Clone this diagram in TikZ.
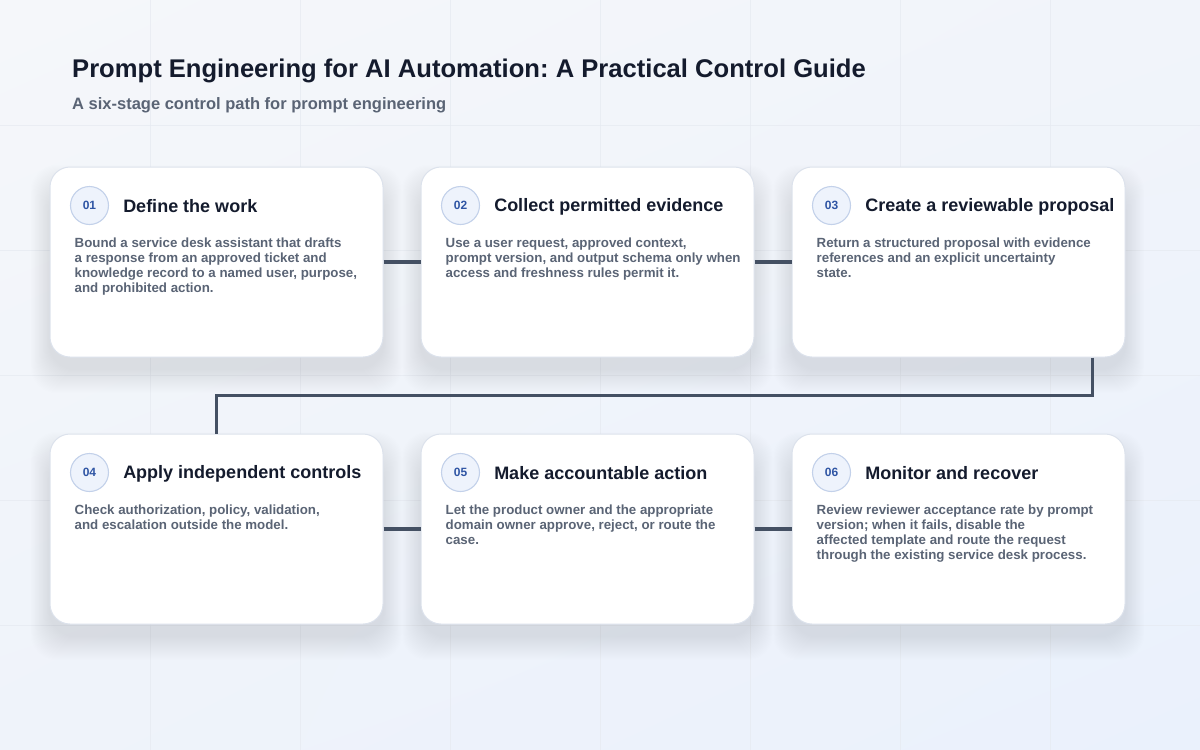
\documentclass[tikz,border=0pt]{standalone}
\usepackage{fontspec}
\setmainfont{Liberation Sans}
\usetikzlibrary{positioning,calc,shadings}

\definecolor{bgA}{HTML}{F5F7FA}
\definecolor{bgB}{HTML}{F1F4FA}
\definecolor{bgC}{HTML}{EFF3FA}
\definecolor{bgD}{HTML}{EAF1FC}
\definecolor{gridline}{HTML}{E6EAF1}
\definecolor{titleink}{HTML}{141B2D}
\definecolor{subink}{HTML}{5A6475}
\definecolor{cardline}{HTML}{DCE2EC}
\definecolor{shadowink}{HTML}{7A869C}
\definecolor{badgefill}{HTML}{EEF3FC}
\definecolor{badgeline}{HTML}{C3D1EA}
\definecolor{badgeink}{HTML}{2F55A4}
\definecolor{linkink}{HTML}{445063}

\tikzset{
  card/.style={draw=cardline, line width=1pt, fill=white, rounded corners=20pt,
    minimum width=333pt, minimum height=190pt, inner sep=0pt},
  badge/.style={circle, draw=badgeline, line width=1.1pt, fill=badgefill,
    minimum size=38pt, inner sep=0pt, text=badgeink,
    font=\fontsize{12}{14}\selectfont\bfseries},
  heading/.style={inner sep=0pt, text=titleink, anchor=west,
    font=\fontsize{18}{21}\selectfont\bfseries},
  body/.style={inner sep=0pt, text=subink, anchor=north west, align=left,
    font=\fontsize{13.3}{15}\selectfont\bfseries},
  link/.style={draw=linkink, line width=3.5pt},
}

\begin{document}
\frenchspacing
\begin{tikzpicture}[x=1pt,y=-1pt]

    \def\cardw{333}
    \def\cardh{190}

    \newcommand{\stageshadow}[2]
    {
      {
        \foreach \s in {1,2,...,24}
          \fill[shadowink, opacity=0.0075, rounded corners=26pt]
            ({#1-\cardw/2-0.8*\s},{#2-\cardh/2-\s+22}) rectangle ({#1+\cardw/2+0.8*\s},{#2+\cardh/2+\s+12});
      }
    }
    \newcommand{\stagecard}[6]
    {
      {
        \stageshadow{#2}{#3}
        \node[card] (#1) at (#2,#3) {};
        \node[badge] (#1n) at ([xshift=40pt,yshift=-39pt]#1.north west) {#4};
        \node[heading, right=14pt of #1n, yshift=-1pt] (#1h) {#5};
        \node[body] (#1t) at ([xshift=25pt,yshift=-71.5pt]#1.north west) {#6};
      }
    }

    % Background
    \useasboundingbox (0,0) rectangle (1200,750);
    \shade[upper left=bgA, upper right=bgB, lower left=bgC, lower right=bgD] (0,0) rectangle (1200,750);
    \foreach \x in {150,300,...,1050}
      \draw[gridline, line width=0.5pt, opacity=0.7] (\x,0) -- (\x,750);
    \foreach \y in {125,250,...,625}
      \draw[gridline, line width=0.5pt, opacity=0.7] (0,\y) -- (1200,\y);

    % Title
    \node[anchor=base west, inner sep=0pt, text=titleink, font=\fontsize{25.6}{30}\selectfont\bfseries]
      (title) at (72,77) {Prompt Engineering for AI Automation: A Practical Control Guide};
    \node[anchor=base west, inner sep=0pt, text=subink, font=\fontsize{16.5}{19}\selectfont\bfseries]
      (subtitle) at (72,109) {A six-stage control path for prompt engineering};

    % Row 1
    \stagecard{s1}{216.5}{262}{01}{Define the work}
      {Bound a service desk assistant that drafts\\a response from an approved ticket and\\knowledge record to a named user, purpose,\\and prohibited action.}
    \stagecard{s2}{587.5}{262}{02}{Collect permitted evidence}
      {Use a user request, approved context,\\prompt version, and output schema only when\\access and freshness rules permit it.}
    \stagecard{s3}{958.5}{262}{03}{Create a reviewable proposal}
      {Return a structured proposal with evidence\\references and an explicit uncertainty\\state.}

    % Row 2
    \stagecard{s4}{216.5}{529}{04}{Apply independent controls}
      {Check authorization, policy, validation,\\and escalation outside the model.}
    \stagecard{s5}{587.5}{529}{05}{Make accountable action}
      {Let the product owner and the appropriate\\domain owner approve, reject, or route the\\case.}
    \stagecard{s6}{958.5}{529}{06}{Monitor and recover}
      {Review reviewer acceptance rate by prompt\\version; when it fails, disable the\\affected template and route the request\\through the existing service desk process.}

    % Connectors
    \draw[link] (s1.east) -- (s2.west);
    \draw[link] (s2.east) -- (s3.west);
    \draw[link] (s4.east) -- (s5.west);
    \draw[link] (s5.east) -- (s6.west);
    \coordinate (turn) at ($(s3.south)!0.5!(s4.north)$);
    \coordinate (drop) at ([xshift=-33pt]s3.south east);
    \draw[link] (drop) -- (drop |- turn) -| (s4.north);

\end{tikzpicture}
\end{document}
